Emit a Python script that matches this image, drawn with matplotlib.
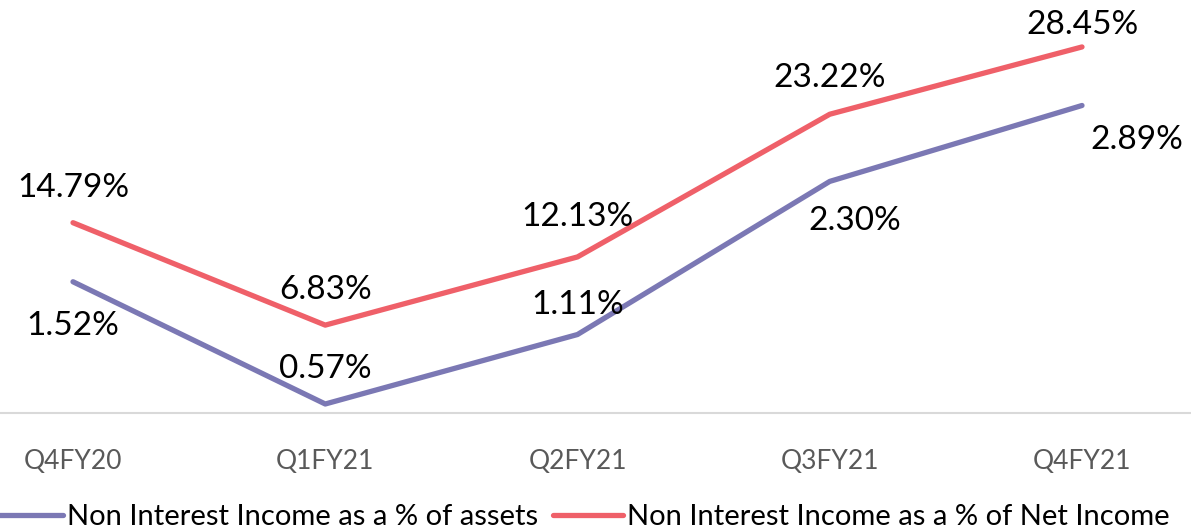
import numpy as np
import matplotlib.pyplot as plt

quarters = ["Q4FY20", "Q1FY21", "Q2FY21", "Q3FY21", "Q4FY21"]
pct_assets = [1.52, 0.57, 1.11, 2.30, 2.89]
pct_net_income = [14.79, 6.83, 12.13, 23.22, 28.45]

purple = "#7B78B4"
red = "#EF6069"
plt.rcParams['font.family'] = ['Lato', 'DejaVu Sans']

fig = plt.figure(figsize=(11.91, 5.31), dpi=100)
ax = fig.add_axes([0, 1 - 413/531, 1, (413 - 27)/531])
ax2 = ax.twinx()

x = np.arange(len(quarters))
l1, = ax.plot(x, pct_assets, color=purple, lw=3.8, solid_capstyle='round',
              label="Non Interest Income as a % of assets")
l2, = ax2.plot(x, pct_net_income, color=red, lw=3.8, solid_capstyle='round',
               label="Non Interest Income as a % of Net Income")

ax.set_ylim(0.5, 3.5)
ax2.set_ylim(0, 30)
ax.set_xlim(-73/252.25, (1191 - 73)/252.25)

# label offsets in pixels (dx, dy) relative to each point
off1 = [(0, 44), (0, -35), (0, -30), (25, 40), (55, 35)]
off2 = [(0, -35), (0, -35), (0, -40), (0, -36), (0, -22)]
px = 72/100
for i, v in enumerate(pct_assets):
    ax.annotate(f"{v:.2f}%", (x[i], v), xytext=(off1[i][0]*px, -off1[i][1]*px),
                textcoords='offset points', ha='center', va='center', fontsize=24,
                annotation_clip=False)
for i, v in enumerate(pct_net_income):
    ax2.annotate(f"{v:.2f}%", (x[i], v), xytext=(off2[i][0]*px, -off2[i][1]*px),
                 textcoords='offset points', ha='center', va='center', fontsize=24,
                 annotation_clip=False)

for a in (ax, ax2):
    for s in ['top', 'right', 'left']:
        a.spines[s].set_visible(False)
    a.set_yticks([])
ax2.spines['bottom'].set_visible(False)
ax.spines['bottom'].set_color('#D9D9D9')
ax.spines['bottom'].set_linewidth(1.5)
ax.set_xticks(x)
ax.set_xticklabels(quarters, fontsize=19, color='#595959')
ax.tick_params(axis='x', length=0, pad=26)

fig.legend(handles=[l1, l2], loc='center', bbox_to_anchor=(0.488, 1 - 517/531),
           ncol=2, frameon=False, fontsize=21, handlelength=2.4, handletextpad=0.15,
           columnspacing=0.5)

fig.savefig("out.png", dpi=100)
